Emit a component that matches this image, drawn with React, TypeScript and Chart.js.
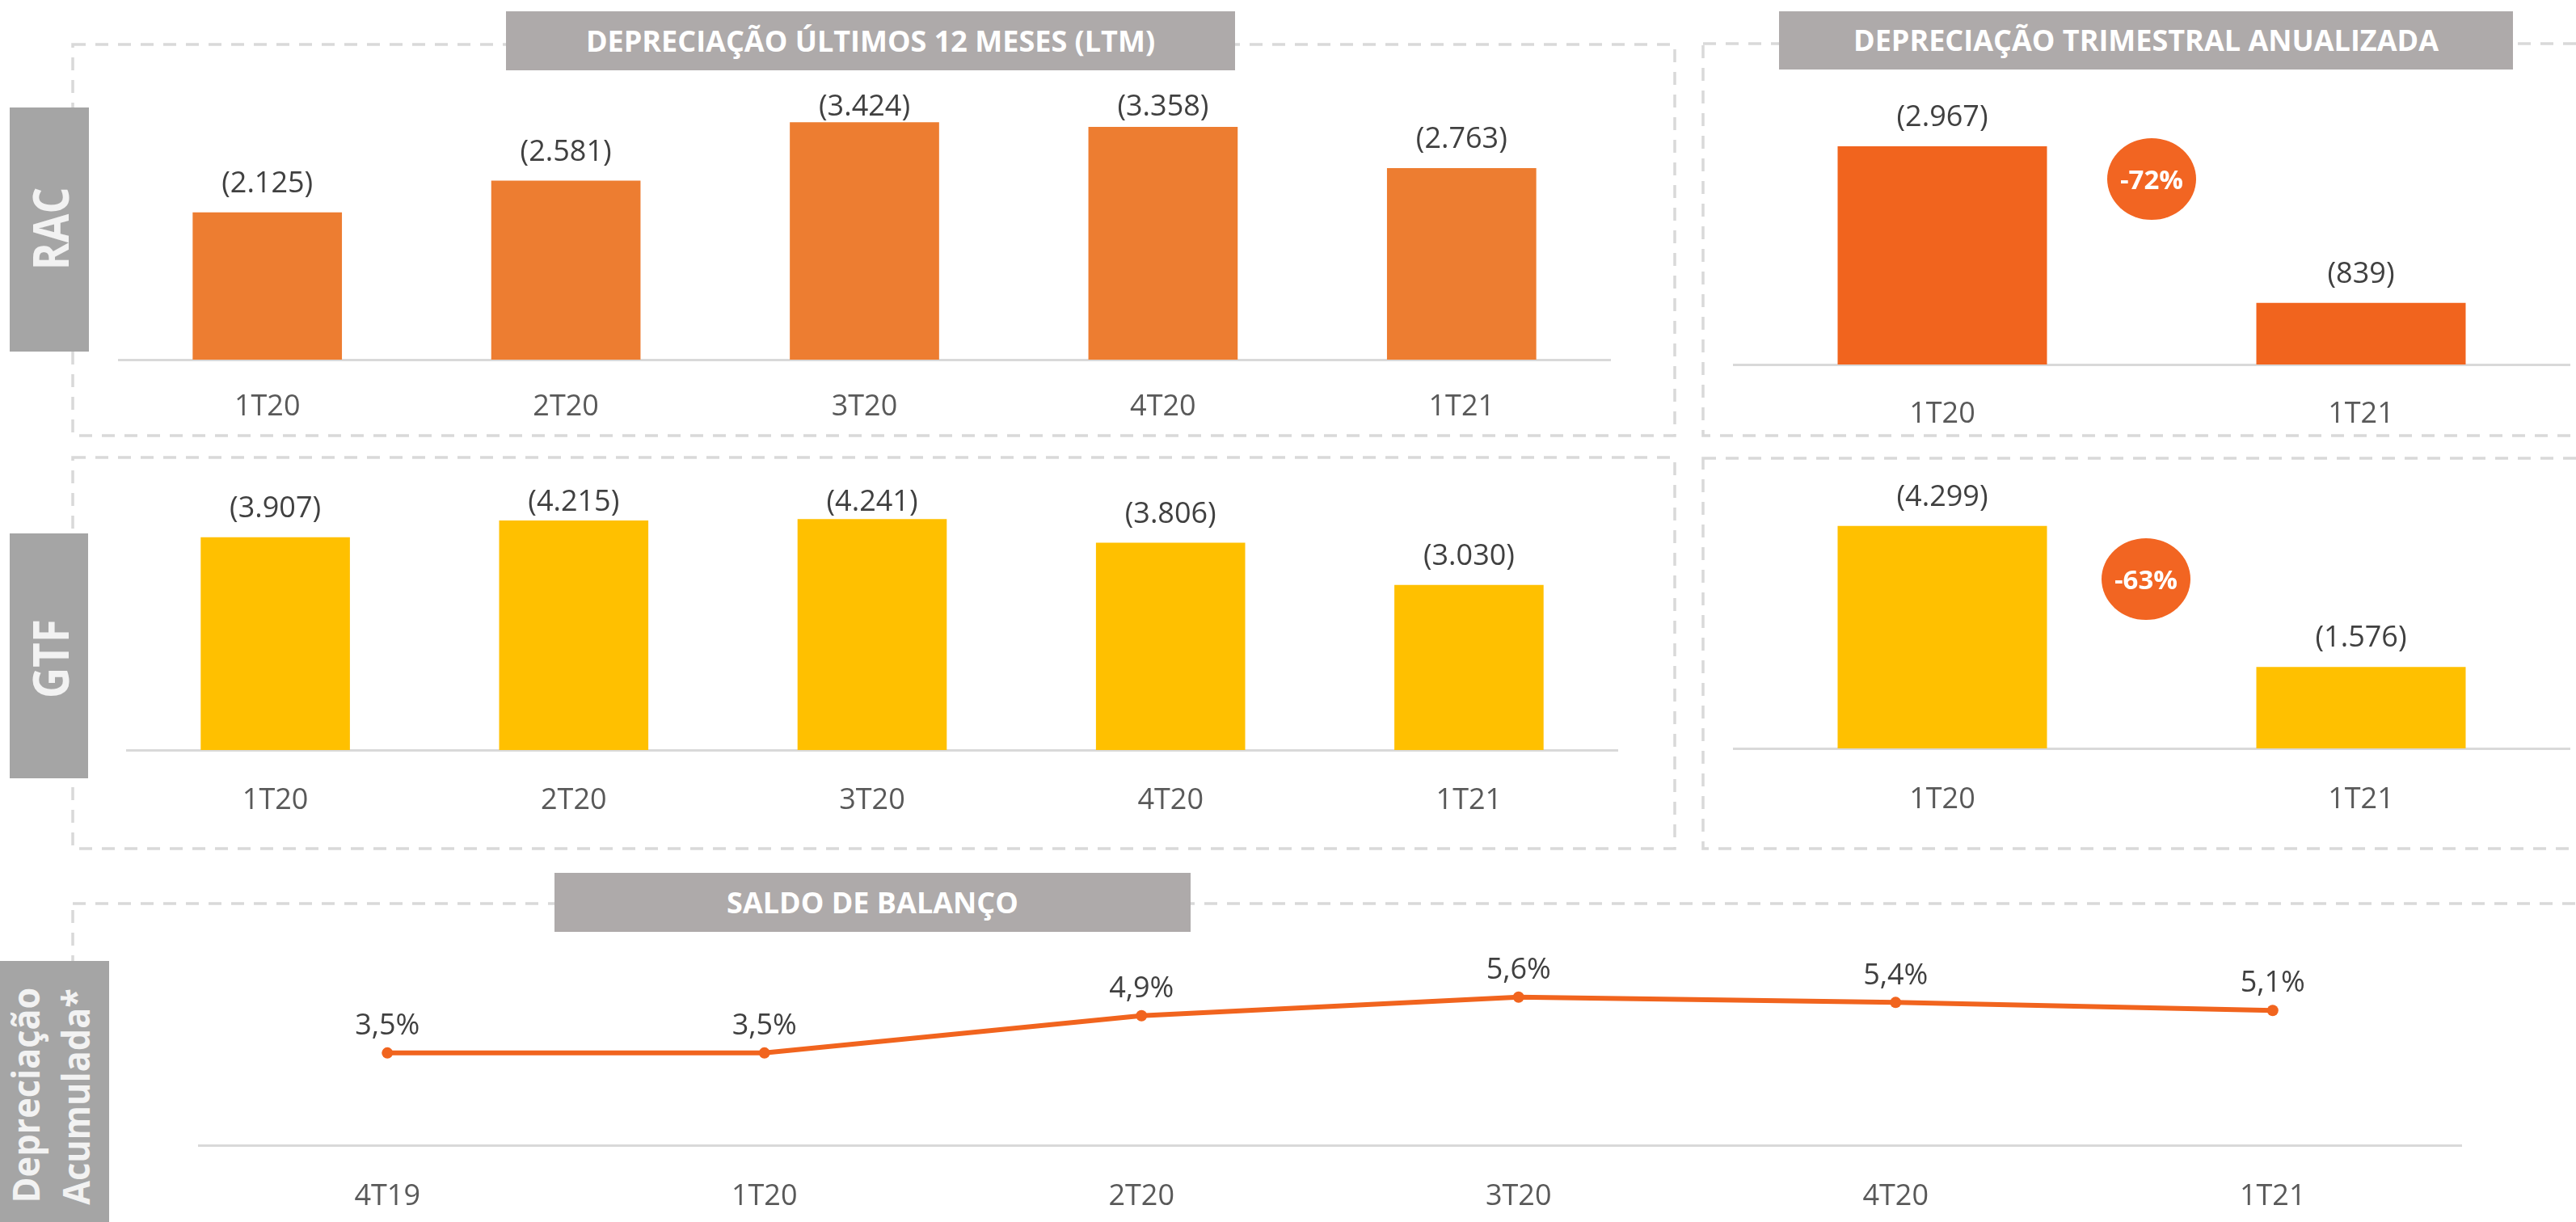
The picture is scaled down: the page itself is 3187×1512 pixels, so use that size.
import React, { useEffect, useRef } from 'react';
import { Chart, registerables } from 'chart.js';

Chart.register(...registerables);

// ---------------- DATA ----------------
const ltmCategories = ['1T20', '2T20', '3T20', '4T20', '1T21'];
const racLtmValues = [2125, 2581, 3424, 3358, 2763];
const gtfLtmValues = [3907, 4215, 4241, 3806, 3030];

const trimCategories = ['1T20', '1T21'];
const racTrimValues = [2967, 839];
const gtfTrimValues = [4299, 1576];
const racTrimChange = '-72%';
const gtfTrimChange = '-63%';

const balanceCategories = ['4T19', '1T20', '2T20', '3T20', '4T20', '1T21'];
const balanceValues = [3.5, 3.5, 4.9, 5.6, 5.4, 5.1];

const titleLtm = 'DEPRECIAÇÃO ÚLTIMOS 12 MESES (LTM)';
const titleTrim = 'DEPRECIAÇÃO TRIMESTRAL ANUALIZADA';
const titleBalance = 'SALDO DE BALANÇO';

// ---------------- STYLE ----------------
const FONT = "'Open Sans', sans-serif";
const SIDE_FONT = "'Open Sans', sans-serif";
const LABEL_COLOR = '#404040';
const TICK_COLOR = '#595959';
const AXIS_COLOR = '#D9D9D9';
const HEADER_BG = '#AEAAAA';
const SIDE_BG = '#A5A5A5';
const RAC_LTM_COLOR = '#ED7D31';
const RAC_TRIM_COLOR = '#F1641E';
const GTF_COLOR = '#FFC000';
const LINE_COLOR = '#F1641E';
const BADGE_COLOR = '#F26522';
const FONT_SIZE = 36;

const fmtThousands = (v: number) =>
  '(' + String(Math.round(v)).replace(/\B(?=(\d{3})+(?!\d))/g, '.') + ')';
const fmtPct = (v: number) => v.toFixed(1).replace('.', ',') + '%';

type BarCfg = {
  left: number;
  right: number;
  baseline: number;
  max: number;
  ppu: number;
  padTop: number;
  tickCenter: number;
  clamp: number | null;
  labels: string[];
  values: number[];
  color: string;
};

function geometry(baseline: number, plotH: number, padTop: number) {
  const top = Math.floor(baseline - plotH - padTop);
  const padT = baseline - plotH - top;
  const height = Math.ceil(padT + plotH + 100);
  const axisH = height - padT - plotH;
  return { top, padT, height, axisH };
}

function BarChartCanvas(props: BarCfg) {
  const ref = useRef<HTMLCanvasElement | null>(null);
  const { left, right, baseline, max, ppu, padTop, tickCenter, clamp, labels, values, color } = props;
  const plotH = max * ppu;
  const { top, padT, height, axisH } = geometry(baseline, plotH, padTop);
  const width = right - left;
  const tickPad = tickCenter - baseline - (FONT_SIZE * 1.2) / 2;

  useEffect(() => {
    const labelPlugin = {
      id: 'barValueLabels',
      afterDatasetsDraw(chart: any) {
        const ctx = chart.ctx;
        const meta = chart.getDatasetMeta(0);
        ctx.save();
        ctx.font = `${FONT_SIZE}px ${FONT}`;
        ctx.fillStyle = LABEL_COLOR;
        ctx.textAlign = 'center';
        ctx.textBaseline = 'middle';
        meta.data.forEach((el: any, i: number) => {
          let y = el.y - 35;
          if (clamp !== null) y = Math.max(y, chart.chartArea.top + clamp);
          ctx.fillText(fmtThousands(values[i]), el.x, y);
        });
        ctx.restore();
      },
    };
    const chart = new Chart(ref.current as HTMLCanvasElement, {
      type: 'bar',
      data: {
        labels,
        datasets: [
          {
            data: values,
            backgroundColor: color,
            barPercentage: 1,
            categoryPercentage: 0.5,
            borderWidth: 0,
          },
        ],
      },
      options: {
        responsive: false,
        animation: false,
        devicePixelRatio: 1,
        layout: { padding: { top: padT, left: 0, right: 0, bottom: 0 } },
        plugins: { legend: { display: false }, tooltip: { enabled: false } },
        scales: {
          x: {
            grid: { display: false },
            border: { display: true, color: AXIS_COLOR, width: 3 },
            ticks: {
              color: TICK_COLOR,
              font: { family: FONT, size: FONT_SIZE },
              padding: tickPad,
              maxRotation: 0,
              autoSkip: false,
            },
            afterFit: (s: any) => {
              s.height = axisH;
            },
          },
          y: { display: false, min: 0, max },
        },
      } as any,
      plugins: [labelPlugin],
    });
    return () => chart.destroy();
  }, []);

  return (
    <canvas
      ref={ref}
      width={width}
      height={height}
      style={{ position: 'absolute', left, top, width, height, display: 'block' }}
    />
  );
}

function LineChartCanvas() {
  const ref = useRef<HTMLCanvasElement | null>(null);
  const left = 239;
  const right = 3052;
  const baseline = 1418;
  const max = 6;
  const ppu = 32.9;
  const plotH = max * ppu;
  const { top, padT, height, axisH } = geometry(baseline, plotH, 70);
  const width = right - left;
  const tickPad = 1473 - baseline - (FONT_SIZE * 1.2) / 2;

  useEffect(() => {
    const labelPlugin = {
      id: 'lineValueLabels',
      afterDatasetsDraw(chart: any) {
        const ctx = chart.ctx;
        const meta = chart.getDatasetMeta(0);
        ctx.save();
        ctx.font = `${FONT_SIZE}px ${FONT}`;
        ctx.fillStyle = LABEL_COLOR;
        ctx.textAlign = 'center';
        ctx.textBaseline = 'middle';
        meta.data.forEach((el: any, i: number) => {
          ctx.fillText(fmtPct(balanceValues[i]), el.x, el.y - 33);
        });
        ctx.restore();
      },
    };
    const chart = new Chart(ref.current as HTMLCanvasElement, {
      type: 'line',
      data: {
        labels: balanceCategories,
        datasets: [
          {
            data: balanceValues,
            borderColor: LINE_COLOR,
            backgroundColor: LINE_COLOR,
            borderWidth: 6,
            pointRadius: 7,
            pointBorderWidth: 0,
            pointBackgroundColor: LINE_COLOR,
            tension: 0,
            fill: false,
            clip: false,
          },
        ],
      },
      options: {
        responsive: false,
        animation: false,
        devicePixelRatio: 1,
        layout: { padding: { top: padT, left: 0, right: 0, bottom: 0 } },
        plugins: { legend: { display: false }, tooltip: { enabled: false } },
        scales: {
          x: {
            offset: true,
            grid: { display: false },
            border: { display: true, color: AXIS_COLOR, width: 3 },
            ticks: {
              color: TICK_COLOR,
              font: { family: FONT, size: FONT_SIZE },
              padding: tickPad,
              maxRotation: 0,
              autoSkip: false,
            },
            afterFit: (s: any) => {
              s.height = axisH;
            },
          },
          y: { display: false, min: 0, max },
        },
      } as any,
      plugins: [labelPlugin],
    });
    return () => chart.destroy();
  }, []);

  return (
    <canvas
      ref={ref}
      width={width}
      height={height}
      style={{ position: 'absolute', left, top, width, height, display: 'block' }}
    />
  );
}

function Header({ left, top, width, height, text }: any) {
  return (
    <div
      style={{
        position: 'absolute',
        left,
        top,
        width,
        height,
        background: HEADER_BG,
        color: '#FFFFFF',
        fontFamily: FONT,
        fontWeight: 700,
        fontSize: 36,
        display: 'flex',
        alignItems: 'center',
        justifyContent: 'center',
        whiteSpace: 'nowrap',
        lineHeight: 1,
      }}
    >
      {text}
    </div>
  );
}

function SideBox({ left, top, width, height }: any) {
  return (
    <div style={{ position: 'absolute', left, top, width, height, background: SIDE_BG }} />
  );
}

function RotText({ cx, cy, text, size, scale }: any) {
  return (
    <div
      style={{
        position: 'absolute',
        left: cx,
        top: cy,
        transformOrigin: 'center center',
        transform: `translate(-50%, -50%) rotate(-90deg) scaleX(${scale})`,
        fontFamily: SIDE_FONT,
        fontWeight: 700,
        fontSize: size,
        lineHeight: 1,
        color: '#F2F2F2',
        whiteSpace: 'nowrap',
      }}
    >
      {text}
    </div>
  );
}

function Badge({ cx, cy, text }: any) {
  const w = 110;
  const h = 101;
  return (
    <div
      style={{
        position: 'absolute',
        left: cx - w / 2,
        top: cy - h / 2,
        width: w,
        height: h,
        borderRadius: '50%',
        background: BADGE_COLOR,
        color: '#FFFFFF',
        fontFamily: FONT,
        fontWeight: 700,
        fontSize: 33,
        display: 'flex',
        alignItems: 'center',
        justifyContent: 'center',
        lineHeight: 1,
      }}
    >
      {text}
    </div>
  );
}

export default function App() {
  return (
    <div
      style={{
        position: 'absolute',
        left: 0,
        top: 0,
        width: 3187,
        height: 1512,
        overflow: 'hidden',
        background: '#FFFFFF',
      }}
    >
      <svg
        width={3187}
        height={1512}
        style={{ position: 'absolute', left: 0, top: 0 }}
      >
        {[
          [90, 55, 1982, 484],
          [2107, 54, 1120, 485],
          [90, 566, 1982, 484],
          [2107, 567, 1120, 483],
          [90, 1118, 3150, 460],
        ].map(([x, y, w, h], i) => (
          <rect
            key={i}
            x={x}
            y={y}
            width={w}
            height={h}
            fill="none"
            stroke="#D9D9D9"
            strokeWidth={3.5}
            strokeDasharray="16 12"
          />
        ))}
      </svg>

      <BarChartCanvas
        left={146}
        right={1993}
        baseline={445}
        max={4000}
        ppu={0.0858}
        padTop={10}
        tickCenter={496}
        clamp={31}
        labels={ltmCategories}
        values={racLtmValues}
        color={RAC_LTM_COLOR}
      />
      <BarChartCanvas
        left={156}
        right={2002}
        baseline={928}
        max={5000}
        ppu={0.0674}
        padTop={10}
        tickCenter={983}
        clamp={31}
        labels={ltmCategories}
        values={gtfLtmValues}
        color={GTF_COLOR}
      />
      <BarChartCanvas
        left={2144}
        right={3180}
        baseline={451}
        max={4000}
        ppu={0.091}
        padTop={10}
        tickCenter={505}
        clamp={null}
        labels={trimCategories}
        values={racTrimValues}
        color={RAC_TRIM_COLOR}
      />
      <BarChartCanvas
        left={2144}
        right={3180}
        baseline={926}
        max={6000}
        ppu={0.064}
        padTop={10}
        tickCenter={982}
        clamp={null}
        labels={trimCategories}
        values={gtfTrimValues}
        color={GTF_COLOR}
      />
      <LineChartCanvas />

      <Header left={626} top={14} width={902} height={73} text={titleLtm} />
      <Header left={2201} top={14} width={908} height={72} text={titleTrim} />
      <Header left={686} top={1080} width={787} height={73} text={titleBalance} />

      <SideBox left={12} top={133} width={98} height={302} />
      <RotText cx={62} cy={283} text="RAC" size={60} scale={0.86} />
      <SideBox left={12} top={660} width={97} height={303} />
      <RotText cx={62} cy={815} text="GTF" size={60} scale={0.88} />
      <SideBox left={0} top={1189} width={135} height={340} />
      <RotText cx={31} cy={1355} text="Depreciação" size={47} scale={0.92} />
      <RotText cx={93} cy={1357} text="Acumulada*" size={47} scale={0.92} />

      <Badge cx={2662} cy={221} text={racTrimChange} />
      <Badge cx={2655} cy={716} text={gtfTrimChange} />
    </div>
  );
}
